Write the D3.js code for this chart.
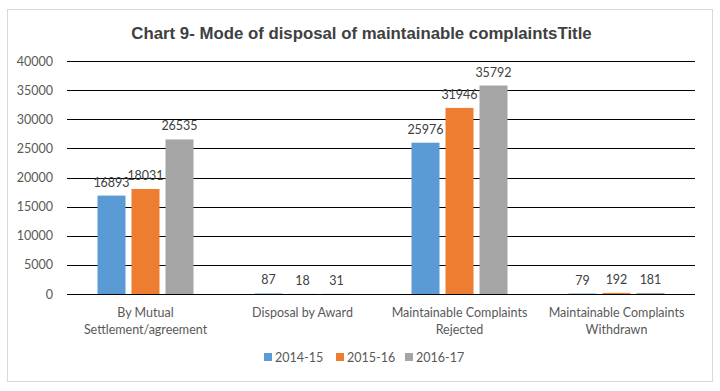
<!DOCTYPE html>
<html><head><meta charset="utf-8">
<script src="https://cdn.jsdelivr.net/npm/d3@7"></script>
<style>body{margin:0;background:#fff}</style>
</head><body>
<svg id="c" width="720" height="391"></svg>
<script>
const categories = [["By Mutual","Settlement/agreement"],["Disposal by Award"],["Maintainable Complaints","Rejected"],["Maintainable Complaints","Withdrawn"]];
const seriesNames = ["2014-15","2015-16","2016-17"];
const s2014 = [16893, 87, 25976, 79];
const s2015 = [18031, 18, 31946, 192];
const s2016 = [26535, 31, 35792, 181];
const yTicks = [0,5000,10000,15000,20000,25000,30000,35000,40000];
const colors = ["#5B9BD5","#ED7D31","#A5A5A5"];
const series = [s2014, s2015, s2016];

const svg = d3.select("#c");
const font = "Lato, 'Open Sans', sans-serif";
svg.append("rect").attr("x",7.5).attr("y",9.5).attr("width",705).attr("height",372)
  .attr("fill","#fff").attr("stroke","#d9d9d9");
svg.append("text").attr("x",361.5).attr("y",39).attr("text-anchor","middle")
  .attr("font-family","Arial, 'Liberation Sans', sans-serif").attr("font-weight","bold")
  .attr("font-size",16.8).attr("fill","#404040").text("Chart 9- Mode of disposal of maintainable complaintsTitle");

const x0 = d3.scaleBand().domain(d3.range(categories.length)).range([67,695]);
const y = d3.scaleLinear().domain([0,40000]).range([294,61]);
const bw = 28, gap = 6;

const g = svg.append("g");
const yAxis = d3.axisLeft(y).tickValues(yTicks).tickFormat(d3.format("d")).tickSize(0).tickPadding(14);
const ya = g.append("g").attr("transform","translate(67,0)").call(yAxis);
ya.select(".domain").remove();
ya.selectAll("text").attr("font-family",font).attr("font-size",12.5).attr("fill","#595959");
g.selectAll("line.grid").data(yTicks).join("line").attr("class","grid")
  .attr("x1",67).attr("x2",695).attr("y1",d=>Math.round(y(d))+0.5).attr("y2",d=>Math.round(y(d))+0.5)
  .attr("stroke","#000").attr("stroke-width",1);

series.forEach((s,si)=>{
  const off = (si-1)*(bw+gap) - bw/2;
  g.selectAll("rect.s"+si).data(s).join("rect").attr("class","s"+si)
    .attr("x",(d,i)=>x0(i)+x0.bandwidth()/2+off).attr("width",bw)
    .attr("y",d=>y(d)).attr("height",d=>y(0)-y(d)).attr("fill",colors[si]);
  g.selectAll("text.l"+si).data(s).join("text").attr("class","l"+si)
    .attr("x",(d,i)=>x0(i)+x0.bandwidth()/2+off+bw/2).attr("y",d=>y(d)-9)
    .attr("text-anchor","middle").attr("font-family",font).attr("font-size",12.5).attr("fill","#404040")
    .text(d=>d);
});

categories.forEach((lines,i)=>{
  const t = g.append("text").attr("text-anchor","middle").attr("font-family",font)
    .attr("font-size",12.5).attr("fill","#595959");
  lines.forEach((ln,k)=>t.append("tspan").attr("x",x0(i)+x0.bandwidth()/2).attr("y",317+k*17).text(ln));
});

const legX = [264,336,405];
seriesNames.forEach((n,i)=>{
  svg.append("rect").attr("x",legX[i]).attr("y",353).attr("width",8).attr("height",8).attr("fill",colors[i]);
  svg.append("text").attr("x",legX[i]+11).attr("y",361.5).attr("font-family",font).attr("font-size",12.5)
    .attr("fill","#595959").text(n);
});
</script>
</body></html>
